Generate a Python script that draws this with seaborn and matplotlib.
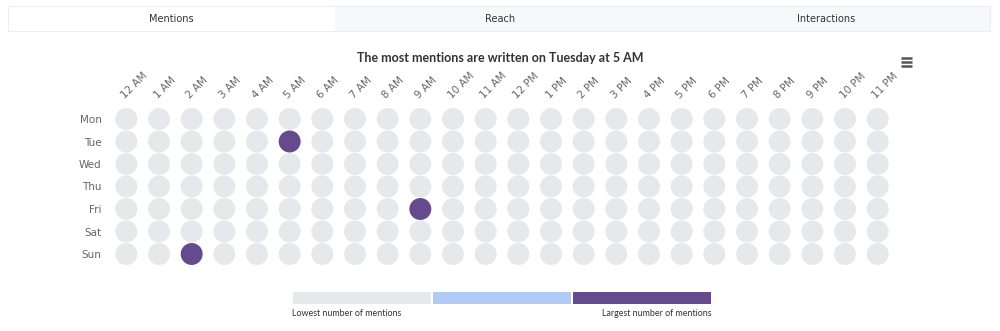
import matplotlib
matplotlib.use("Agg")
import matplotlib.pyplot as plt
from matplotlib.patches import Rectangle
import seaborn as sns
import pandas as pd
import numpy as np

sns.set_theme(style="white")
plt.rcParams['font.family'] = ['DejaVu Sans']

days = ["Mon", "Tue", "Wed", "Thu", "Fri", "Sat", "Sun"]
hours = ["12 AM", "1 AM", "2 AM", "3 AM", "4 AM", "5 AM", "6 AM", "7 AM", "8 AM", "9 AM",
         "10 AM", "11 AM", "12 PM", "1 PM", "2 PM", "3 PM", "4 PM", "5 PM", "6 PM", "7 PM",
         "8 PM", "9 PM", "10 PM", "11 PM"]
# mentions per (day, hour); only three cells are non-zero
peak_days = ["Tue", "Fri", "Sun"]
peak_hours = ["5 AM", "9 AM", "2 AM"]
peak_values = [1, 1, 1]

tabs = ["Mentions", "Reach", "Interactions"]
title = "The most mentions are written on Tuesday at 5 AM"
legend_low = "Lowest number of mentions"
legend_high = "Largest number of mentions"

grey = "#e6e8eb"
blue = "#b1cbf6"
purple = "#654a8e"

rows = []
for d in days:
    for h in hours:
        v = 0
        for pd_, ph, pv in zip(peak_days, peak_hours, peak_values):
            if pd_ == d and ph == h:
                v = pv
        rows.append({"day": d, "hour": h, "value": v})
df = pd.DataFrame(rows)
df["x"] = df["hour"].map({h: i for i, h in enumerate(hours)})
df["y"] = df["day"].map({d: i for i, d in enumerate(days)})

fig = plt.figure(figsize=(10, 3.31), dpi=100)
fig.patch.set_facecolor("white")

# tabs bar
bg = fig.add_axes([0, 0, 1, 1], zorder=-5)
bg.set_xlim(0, 1000)
bg.set_ylim(331, 0)
bg.axis("off")
bg.add_patch(Rectangle((8, 6), 982, 25, facecolor="#f7f8fa", edgecolor="#eceef1", lw=0.8))
bg.add_patch(Rectangle((9, 7), 326, 24, facecolor="white", edgecolor="none"))
tab_centers = [171, 500, 826]
for t, cx in zip(tabs, tab_centers):
    bg.text(cx, 19, t, ha="center", va="center", fontsize=7, color="#333333")
# menu icon
for yy in (58, 62, 66):
    bg.plot([901, 912], [yy, yy], color="#555555", lw=1.8, solid_capstyle="butt")

fig.text(0.5, 1 - 58 / 331, title, ha="center", va="center", fontsize=9,
         fontweight="bold", color="#333333", family=["Lato", "DejaVu Sans"])

ax = fig.add_axes([0.11, (331 - 265.25) / 331, 0.784, 157.5 / 331])
sns.scatterplot(data=df, x="x", y="y", hue="value", palette={0: grey, 1: purple},
                s=250, linewidth=0, legend=False, ax=ax)
ax.set_xlim(-0.5, len(hours) - 0.5)
ax.set_ylim(len(days) - 0.5, -0.5)
ax.set_xlabel("")
ax.set_ylabel("")
ax.xaxis.tick_top()
ax.set_xticks(range(len(hours)))
ax.set_xticklabels(hours, rotation=45, ha="left", va="bottom", rotation_mode="anchor",
                   fontsize=7.5, color="#666666")
ax.set_yticks(range(len(days)))
ax.set_yticklabels(days, fontsize=7.5, color="#666666")
ax.tick_params(axis="y", length=0, pad=6)
ax.tick_params(axis="x", length=0, pad=5)
for s in ax.spines.values():
    s.set_visible(False)
ax.patch.set_alpha(0)

# color legend
lax = fig.add_axes([292 / 1000, 1 - 304 / 331, 420 / 1000, 12 / 331])
sns.barplot(x=[0, 1, 2], y=[1, 1, 1], palette=[grey, blue, purple], hue=[0, 1, 2],
            legend=False, width=0.985, ax=lax, linewidth=0, saturation=1)
lax.set_xlim(-0.5, 2.5)
lax.set_ylim(0, 1)
lax.axis("off")
fig.text(292 / 1000, 1 - 313 / 331, legend_low, ha="left", va="center", fontsize=6.4,
         color="#333333", family=["Lato", "DejaVu Sans"])
fig.text(712 / 1000, 1 - 313 / 331, legend_high, ha="right", va="center", fontsize=6.4,
         color="#333333", family=["Lato", "DejaVu Sans"])

fig.savefig("out.png", dpi=100, facecolor="white")
